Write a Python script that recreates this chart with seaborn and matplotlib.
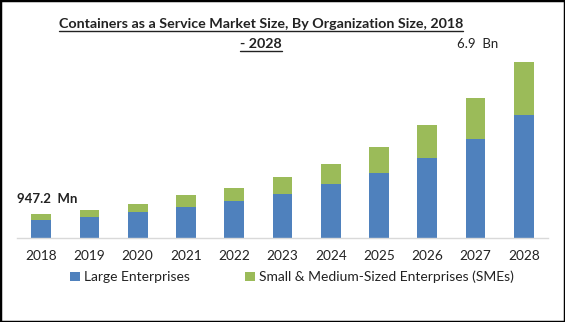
import matplotlib
matplotlib.use("Agg")
import matplotlib.pyplot as plt
import seaborn as sns
import pandas as pd
from matplotlib.patches import Patch, Rectangle
from matplotlib.lines import Line2D

years = ["2018", "2019", "2020", "2021", "2022", "2023", "2024", "2025", "2026", "2027", "2028"]
large = [705, 834, 1029, 1225, 1460, 1734, 2125, 2556, 3143, 3887, 4826]
smes = [242, 274, 314, 442, 509, 665, 783, 1018, 1292, 1605, 2074]
series_names = ["Large Enterprises", "Small & Medium-Sized Enterprises (SMEs)"]
title_lines = ["Containers as a Service Market Size, By Organization Size, 2018", "- 2028"]
first_label = "947.2  Mn"
last_label = "6.9  Bn"

blue = "#4F81BD"
green = "#9BBB59"

sns.set_theme(style="white")
plt.rcParams["font.family"] = ["Lato", "DejaVu Sans"]

df = pd.DataFrame({"year": years, "large": large, "smes": smes})
df["total"] = df["large"] + df["smes"]

W, H = 565, 322
fig = plt.figure(figsize=(W / 100, H / 100), dpi=100)
ax = fig.add_axes([17 / W, 1 - 238 / H, 531 / W, 198 / H])

sns.barplot(data=df, x="year", y="total", color=green, width=0.41, saturation=1,
            linewidth=0, ax=ax)
sns.barplot(data=df, x="year", y="large", color=blue, width=0.41, saturation=1,
            linewidth=0, ax=ax)

ax.set_xlim(-0.5, len(years) - 0.5)
ax.set_ylim(0, 7750)
ax.set_xlabel("")
ax.set_ylabel("")
ax.set_yticks([])
for s in ["top", "right", "left"]:
    ax.spines[s].set_visible(False)
ax.spines["bottom"].set_color("#D9D9D9")
ax.spines["bottom"].set_linewidth(1.0)
ax.tick_params(axis="x", length=0, pad=9, labelsize=9.8, labelcolor="#222222")

# value labels
ax.annotate(first_label, xy=(0, df["total"].iloc[0]), xytext=(4, 11),
            textcoords="offset points", ha="center", va="center",
            fontsize=9.5, fontweight="bold", color="#222222")
ax.annotate(last_label, xy=(len(years) - 1, df["total"].iloc[-1]), xytext=(-33, 13),
            textcoords="offset points", ha="center", va="center",
            fontsize=9.5, color="#222222")

# title (two lines) with underline
fig.canvas.draw()
renderer = fig.canvas.get_renderer()
for ln, yb in zip(title_lines, [28, 48.5]):
    tt = fig.text(261 / W, 1 - yb / H, ln, ha="center", va="baseline",
                  fontsize=10.3, fontweight="bold", color="#222222")
    bb = tt.get_window_extent(renderer)
    yl = (H - yb - 2.5) / H
    fig.add_artist(Line2D([bb.x0 / W, bb.x1 / W], [yl, yl],
                          transform=fig.transFigure, color="#222222", lw=1.0))

handles = [Patch(facecolor=blue, edgecolor="none"), Patch(facecolor=green, edgecolor="none")]
fig.legend(handles, series_names, loc="center", bbox_to_anchor=(292 / W, 1 - 277 / H),
           ncol=2, frameon=False, fontsize=10, handlelength=0.7, handleheight=0.7,
           handletextpad=0.3, columnspacing=4.0, labelcolor="#222222")

fig.add_artist(Rectangle((0, 0), 1, 1, transform=fig.transFigure, fill=False,
                         edgecolor="black", lw=2.5))

fig.savefig("out.png", dpi=100)
